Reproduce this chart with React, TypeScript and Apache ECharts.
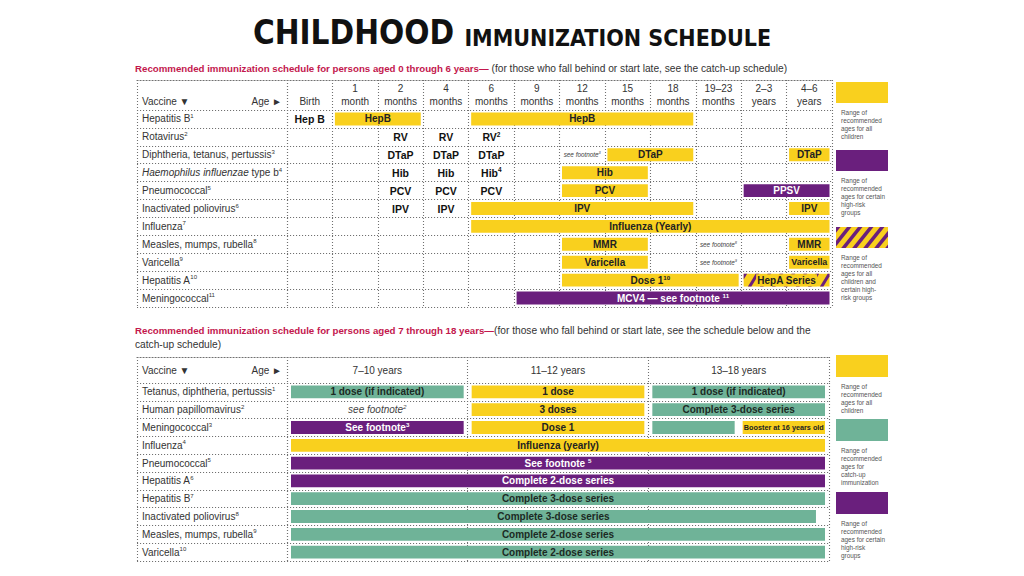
import React, { useEffect, useRef } from 'react';
import * as echarts from 'echarts';

// ---------------- DATA ----------------
const mainTitleBig = 'CHILDHOOD';
const mainTitleSmall = 'IMMUNIZATION SCHEDULE';

const earlyHeading = 'Recommended immunization schedule for persons aged 0 through 6 years—';
const earlyHeadingNote = '(for those who fall behind or start late, see the catch-up schedule)';
const lateHeading = 'Recommended immunization schedule for persons aged 7 through 18 years—';
const lateHeadingNote1 = '(for those who fall behind or start late, see the schedule below and the';
const lateHeadingNote2 = 'catch-up schedule)';

const vaccineHeader = 'Vaccine ▼';
const ageHeader = 'Age ►';

const earlyAges = ['Birth', '1\nmonth', '2\nmonths', '4\nmonths', '6\nmonths', '9\nmonths', '12\nmonths', '15\nmonths', '18\nmonths', '19–23\nmonths', '2–3\nyears', '4–6\nyears'];
const earlyVaccines = ['Hepatitis B', 'Rotavirus', 'Diphtheria, tetanus, pertussis', 'Haemophilus influenzae type b', 'Pneumococcal', 'Inactivated poliovirus', 'Influenza', 'Measles, mumps, rubella', 'Varicella', 'Hepatitis A', 'Meningococcal'];
const earlyFootnotes = ['1', '2', '3', '4', '5', '6', '7', '8', '9', '10', '11'];

// [row, fromColumn, toColumn, kind, label, superscript]
const earlyMarks: [number, number, number, string, string, string][] = [
  [0, 0, 1, 'text', 'Hep B', ''],
  [0, 1, 3, 'all', 'HepB', ''],
  [0, 4, 9, 'all', 'HepB', ''],
  [1, 2, 3, 'text', 'RV', ''],
  [1, 3, 4, 'text', 'RV', ''],
  [1, 4, 5, 'text', 'RV', '2'],
  [2, 2, 3, 'text', 'DTaP', ''],
  [2, 3, 4, 'text', 'DTaP', ''],
  [2, 4, 5, 'text', 'DTaP', ''],
  [2, 6, 7, 'note', 'see footnote', '3'],
  [2, 7, 9, 'all', 'DTaP', ''],
  [2, 11, 12, 'all', 'DTaP', ''],
  [3, 2, 3, 'text', 'Hib', ''],
  [3, 3, 4, 'text', 'Hib', ''],
  [3, 4, 5, 'text', 'Hib', '4'],
  [3, 6, 8, 'all', 'Hib', ''],
  [4, 2, 3, 'text', 'PCV', ''],
  [4, 3, 4, 'text', 'PCV', ''],
  [4, 4, 5, 'text', 'PCV', ''],
  [4, 6, 8, 'all', 'PCV', ''],
  [4, 10, 12, 'risk', 'PPSV', ''],
  [5, 2, 3, 'text', 'IPV', ''],
  [5, 3, 4, 'text', 'IPV', ''],
  [5, 4, 9, 'all', 'IPV', ''],
  [5, 11, 12, 'all', 'IPV', ''],
  [6, 4, 12, 'all', 'Influenza (Yearly)', ''],
  [7, 6, 8, 'all', 'MMR', ''],
  [7, 9, 10, 'note', 'see footnote', '8'],
  [7, 11, 12, 'all', 'MMR', ''],
  [8, 6, 8, 'all', 'Varicella', ''],
  [8, 9, 10, 'note', 'see footnote', '9'],
  [8, 11, 12, 'all', 'Varicella', ''],
  [9, 6, 10, 'all', 'Dose 1', '10'],
  [9, 10, 12, 'mixed', 'HepA Series', ''],
  [10, 5, 12, 'risk', 'MCV4 — see footnote ', '11'],
];

const lateAges = ['7–10 years', '11–12 years', '13–18 years'];
const lateVaccines = ['Tetanus, diphtheria, pertussis', 'Human papillomavirus', 'Meningococcal', 'Influenza', 'Pneumococcal', 'Hepatitis A', 'Hepatitis B', 'Inactivated poliovirus', 'Measles, mumps, rubella', 'Varicella'];
const lateFootnotes = ['1', '2', '3', '4', '5', '6', '7', '8', '9', '10'];

const lateMarks: [number, number, number, string, string, string][] = [
  [0, 0, 1, 'catchup', '1 dose (if indicated)', ''],
  [0, 1, 2, 'all', '1 dose', ''],
  [0, 2, 3, 'catchup', '1 dose (if indicated)', ''],
  [1, 0, 1, 'note', 'see footnote', '2'],
  [1, 1, 2, 'all', '3 doses', ''],
  [1, 2, 3, 'catchup', 'Complete 3-dose series', ''],
  [2, 0, 1, 'risk', 'See footnote', '3'],
  [2, 1, 2, 'all', 'Dose 1', ''],
  [2, 2, 2.5, 'catchup', '', ''],
  [2, 2.5, 3, 'all', 'Booster at 16 years old', ''],
  [3, 0, 3, 'all', 'Influenza (yearly)', ''],
  [4, 0, 3, 'risk', 'See footnote ', '5'],
  [5, 0, 3, 'risk', 'Complete 2-dose series', ''],
  [6, 0, 3, 'catchup', 'Complete 3-dose series', ''],
  [7, 0, 2.95, 'catchup', 'Complete 3-dose series', ''],
  [8, 0, 3, 'catchup', 'Complete 2-dose series', ''],
  [9, 0, 3, 'catchup', 'Complete 2-dose series', ''],
];

const earlyLegend: [string, string][] = [
  ['all', 'Range of\nrecommended\nages for all\nchildren'],
  ['risk', 'Range of\nrecommended\nages for certain\nhigh-risk\ngroups'],
  ['mixed', 'Range of\nrecommended\nages for all\nchildren and\ncertain high-\nrisk groups'],
];
const lateLegend: [string, string][] = [
  ['all', 'Range of\nrecommended\nages for all\nchildren'],
  ['catchup', 'Range of\nrecommended\nages for\ncatch-up\nimmunization'],
  ['risk', 'Range of\nrecommended\nages for certain\nhigh-risk\ngroups'],
];

// ---------------- STYLE ----------------
const FONT = "'Liberation Sans', Arial, Helvetica, sans-serif";
const TITLE_FONT = "'DejaVu Sans Condensed', 'Liberation Sans Narrow', 'DejaVu Sans', sans-serif";
const YELLOW = '#F9D01E';
const PURPLE = '#6A1F7D';
const TEAL = '#6FB398';
const CRIMSON = '#C3174D';
const DOTS = { color: '#707070', width: 1.1, type: [1.1, 1.9] as any };
const TABLE_LEFT = 137;
const LABEL_W = 150;

type P = [number, number];
function clipEdge(pts: P[], inside: (p: P) => boolean, inter: (a: P, b: P) => P): P[] {
  const out: P[] = [];
  for (let i = 0; i < pts.length; i++) {
    const cur = pts[i];
    const prev = pts[(i + pts.length - 1) % pts.length];
    const ci = inside(cur);
    const pi = inside(prev);
    if (ci) {
      if (!pi) out.push(inter(prev, cur));
      out.push(cur);
    } else if (pi) out.push(inter(prev, cur));
  }
  return out;
}
function clipRect(pts: P[], x0: number, y0: number, x1: number, y1: number): P[] {
  const ix = (x: number) => (a: P, b: P): P => { const t = (x - a[0]) / (b[0] - a[0]); return [x, a[1] + t * (b[1] - a[1])]; };
  const iy = (y: number) => (a: P, b: P): P => { const t = (y - a[1]) / (b[1] - a[1]); return [a[0] + t * (b[0] - a[0]), y]; };
  let r = clipEdge(pts, (p) => p[0] >= x0, ix(x0));
  if (r.length) r = clipEdge(r, (p) => p[0] <= x1, ix(x1));
  if (r.length) r = clipEdge(r, (p) => p[1] >= y0, iy(y0));
  if (r.length) r = clipEdge(r, (p) => p[1] <= y1, iy(y1));
  return r;
}
function stripePolys(x0: number, y0: number, x1: number, y1: number, period: number, w: number, s: number): P[][] {
  const polys: P[][] = [];
  const ya = y0 - 2;
  const yb = y1 + 2;
  for (let c = x0 + s * y0 - period; c < x1 + s * y1 + period; c += period) {
    const poly: P[] = [[c - s * ya, ya], [c + w - s * ya, ya], [c + w - s * yb, yb], [c - s * yb, yb]];
    const r = clipRect(poly, x0, y0, x1, y1);
    if (r.length >= 3) polys.push(r);
  }
  return polys;
}

interface Geom { headerTop: number; bodyTop: number; bodyBottom: number; right: number; inset: number; labelMargin: number; twoLine: boolean; noteSize: number; }

function renderMark(m: [number, number, number, string, string, string], api: any, g: Geom) {
  const [row, from, to, kind, label, sup] = m;
  const a = api.coord([from, row]);
  const b = api.coord([to, row]);
  const bh = api.size([0, 1])[1];
  const x0 = a[0] + g.inset;
  const x1 = b[0] - g.inset;
  const y0 = a[1] - bh / 2 + 2.5;
  const h = bh - 5;
  const children: any[] = [];
  let color = '#222';
  let weight = 'bold';
  let fstyle = 'normal';
  let size = 10;
  if (kind === 'all' || kind === 'mixed') {
    children.push({ type: 'rect', shape: { x: x0, y: y0, width: x1 - x0, height: h }, style: { fill: YELLOW } });
  }
  if (kind === 'mixed') {
    stripePolys(x0, y0, x1, y0 + h, 12, 3.5, 0.6).forEach((pts) => {
      children.push({ type: 'polygon', shape: { points: pts }, style: { fill: PURPLE } });
    });
  }
  if (kind === 'risk') {
    children.push({ type: 'rect', shape: { x: x0, y: y0, width: x1 - x0, height: h }, style: { fill: PURPLE } });
    color = '#fff';
  }
  if (kind === 'catchup') {
    children.push({ type: 'rect', shape: { x: x0, y: y0, width: x1 - x0, height: h }, style: { fill: TEAL } });
    color = '#1c2a24';
  }
  if (kind === 'text') {
    color = '#111';
    size = 10.5;
  }
  if (kind === 'note') {
    color = '#444';
    weight = 'normal';
    fstyle = 'italic';
    size = g.noteSize;
  }
  if (label) {
    size = Math.min(size, (x1 - x0 - 2) / ((label.length + sup.length * 0.6) * 0.48));
    const ss = size * 0.62;
    const textStyle: any = {
      text: sup ? `{n|${label}}{s|${sup}}` : `{n|${label}}`,
      align: 'center',
      verticalAlign: 'middle',
      rich: {
        n: { fontSize: size, fontWeight: weight, fontStyle: fstyle, fill: color, fontFamily: FONT, lineHeight: size + 2 },
        s: { fontSize: ss, fontWeight: weight, fontStyle: fstyle, fill: color, fontFamily: FONT, lineHeight: ss, verticalAlign: 'top' },
      },
    };
    if (kind === 'mixed') {
      textStyle.backgroundColor = YELLOW;
      textStyle.padding = [0, 1];
    }
    children.push({ type: 'text', x: (x0 + x1) / 2, y: a[1], style: textStyle });
  }
  return { type: 'group', children };
}

function vaccineLabel(name: string, fn: string) {
  const it = 'Haemophilus influenzae';
  if (name.startsWith(it)) return `{i|${it}}{n|${name.slice(it.length)}}{s|${fn}}`;
  return `{n|${name}}{s|${fn}}`;
}

const labelRich = {
  n: { fontSize: 10, fontFamily: FONT, color: '#333', lineHeight: 12 },
  i: { fontSize: 10, fontFamily: FONT, color: '#333', lineHeight: 12, fontStyle: 'italic' },
  s: { fontSize: 6, fontFamily: FONT, color: '#333', lineHeight: 6, verticalAlign: 'top' },
};
const headRich = {
  a: { fontSize: 10, fontFamily: FONT, color: '#333', width: 95, align: 'left', lineHeight: 13 },
  b: { fontSize: 10, fontFamily: FONT, color: '#333', width: 45, align: 'right', lineHeight: 13 },
};

function buildTable(ages: string[], vaccines: string[], footnotes: string[], marks: any[], g: Geom, gi: number, xi: number, yi: number) {
  const headerH = g.bodyTop - g.headerTop;
  const height = g.bodyBottom - g.bodyTop;
  const grids = [
    { left: TABLE_LEFT, top: g.bodyTop, width: LABEL_W, height },
    { left: TABLE_LEFT + LABEL_W, top: g.bodyTop, width: g.right - TABLE_LEFT - LABEL_W, height },
  ];
  const headerAxis = (gridIndex: number, data: string[], formatter: any, rich: any) => ({
    gridIndex,
    type: 'category',
    position: 'top',
    offset: headerH,
    data,
    boundaryGap: true,
    axisLine: { show: true, lineStyle: DOTS },
    axisTick: { show: true, inside: true, length: headerH, interval: 0, lineStyle: DOTS },
    axisLabel: {
      show: true, inside: true, interval: 0, margin: g.labelMargin, verticalAlign: 'top',
      color: '#333', fontFamily: FONT, fontSize: 10, lineHeight: 13, formatter, rich,
    },
    splitLine: { show: true, interval: 0, lineStyle: DOTS },
  });
  const xAxes = [
    headerAxis(gi, [vaccineHeader], () => `${g.twoLine ? '\n' : ''}{a|${vaccineHeader}}{b|${ageHeader}}`, headRich),
    headerAxis(gi + 1, ages, (v: string) => (g.twoLine && v.indexOf('\n') < 0 ? '\n' + v : v), undefined),
    { gridIndex: gi + 1, type: 'value', min: 0, max: ages.length, show: false, position: 'bottom' },
  ];
  const yAxes = [
    {
      gridIndex: gi, type: 'category', inverse: true, data: vaccines,
      axisLine: { show: false }, axisTick: { show: false },
      axisLabel: { inside: true, margin: 5, interval: 0, formatter: (v: string, i: number) => vaccineLabel(v, footnotes[i]), rich: labelRich },
      splitLine: { show: true, interval: 0, lineStyle: DOTS },
    },
    {
      gridIndex: gi + 1, type: 'category', inverse: true, data: vaccines,
      axisLine: { show: false }, axisTick: { show: false }, axisLabel: { show: false },
      splitLine: { show: true, interval: 0, lineStyle: DOTS },
    },
  ];
  const series = [{
    type: 'custom',
    xAxisIndex: xi + 2,
    yAxisIndex: yi + 1,
    data: marks.map((m) => [m[1], m[2], m[0]]),
    encode: { x: [0, 1], y: 2 },
    renderItem: (params: any, api: any) => renderMark(marks[params.dataIndex], api, g),
    silent: true,
    z: 5,
  }];
  return { grids, xAxes, yAxes, series };
}

function legendGraphics(items: [string, string][], tops: number[], h: number) {
  const els: any[] = [];
  const x = 836;
  const w = 52;
  items.forEach(([kind, text], i) => {
    const y = tops[i];
    const fill = kind === 'risk' ? PURPLE : kind === 'catchup' ? TEAL : YELLOW;
    els.push({ type: 'rect', shape: { x, y, width: w, height: h }, style: { fill }, silent: true });
    if (kind === 'mixed') {
      stripePolys(x, y, x + w, y + h, 11, 4.5, 0.8).forEach((pts) => els.push({ type: 'polygon', shape: { points: pts }, style: { fill: PURPLE }, silent: true }));
    }
    els.push({ type: 'text', x: x + 5, y: y + h + 5, style: { text, fontSize: 6.4, lineHeight: 8, fill: '#555', fontFamily: FONT }, silent: true });
  });
  return els;
}

function buildOption() {
  const early = buildTable(earlyAges, earlyVaccines, earlyFootnotes, earlyMarks,
    { headerTop: 80, bodyTop: 110, bodyBottom: 307, right: 832, inset: 2.5, labelMargin: 2, twoLine: true, noteSize: 6.5 }, 0, 0, 0);
  const late = buildTable(lateAges, lateVaccines, lateFootnotes, lateMarks,
    { headerTop: 357, bodyTop: 383, bodyBottom: 561, right: 829, inset: 4, labelMargin: 7, twoLine: false, noteSize: 10 }, 2, 3, 2);
  const headingRich = (lh: number) => ({
    r: { fontFamily: FONT, fontWeight: 'bold', fontSize: 9.7, color: CRIMSON, lineHeight: lh },
    k: { fontFamily: FONT, fontWeight: 'normal', fontSize: 10.2, color: '#333', lineHeight: lh },
  });
  return {
    animation: false,
    backgroundColor: '#ffffff',
    title: [
      {
        text: `{a|${mainTitleBig} }{b|${mainTitleSmall}}`,
        left: 'center', top: 16, padding: 0,
        textStyle: {
          rich: {
            a: { fontFamily: TITLE_FONT, fontWeight: 'bold', fontSize: 33, color: '#111', lineHeight: 33, verticalAlign: 'bottom' },
            b: { fontFamily: TITLE_FONT, fontWeight: 'bold', fontSize: 23, color: '#111', lineHeight: 23, verticalAlign: 'bottom' },
          },
        },
      },
      {
        text: `{r|${earlyHeading}}{k| ${earlyHeadingNote}}`,
        left: 135, top: 62, padding: 0,
        textStyle: { fontWeight: 'normal', rich: headingRich(13) },
      },
      {
        text: `{r|${lateHeading}}{k|${lateHeadingNote1}}\n{k|${lateHeadingNote2}}`,
        left: 135, top: 323, padding: 0,
        textStyle: { fontWeight: 'normal', rich: headingRich(14) },
      },
    ],
    grid: [...early.grids, ...late.grids],
    xAxis: [...early.xAxes, ...late.xAxes],
    yAxis: [...early.yAxes, ...late.yAxes],
    series: [...early.series, ...late.series],
    graphic: [
      ...legendGraphics(earlyLegend, [82, 150, 227], 21),
      ...legendGraphics(lateLegend, [355, 419, 492], 22),
    ],
  };
}

export default function App() {
  const ref = useRef<HTMLDivElement>(null);
  useEffect(() => {
    if (!ref.current) return;
    const chart = echarts.init(ref.current, null, { renderer: 'svg' });
    chart.setOption(buildOption() as any);
    return () => chart.dispose();
  }, []);
  return <div ref={ref} style={{ position: 'absolute', left: 0, top: 0, width: 1024, height: 576, background: '#fff' }} />;
}
